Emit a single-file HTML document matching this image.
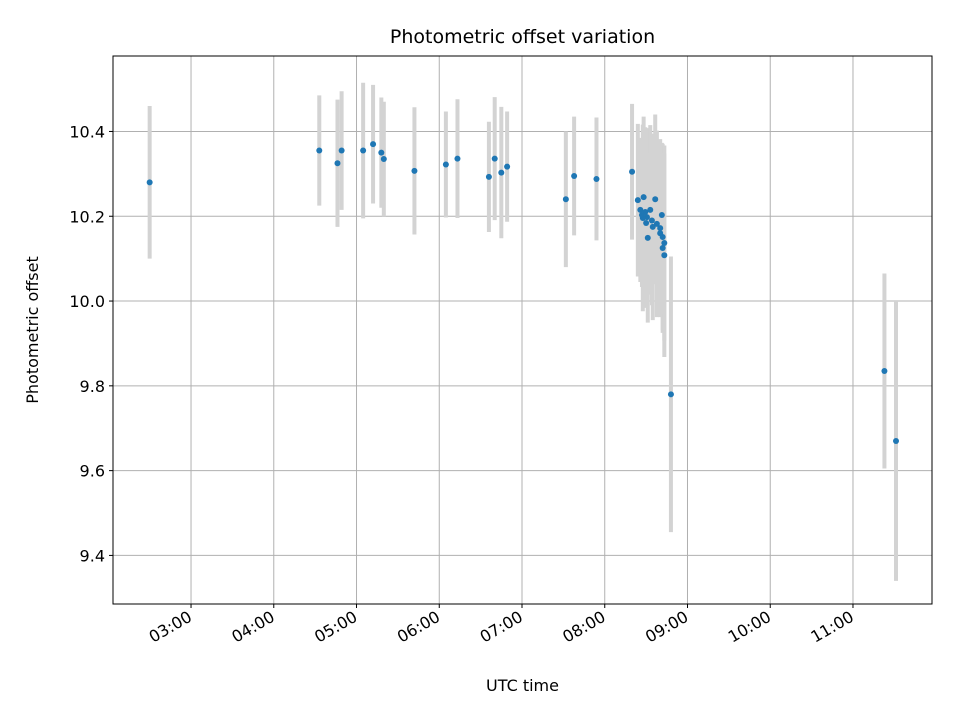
<!DOCTYPE html>
<html><head><meta charset="utf-8"><style>
body{margin:0;background:#fff;font-family:"DejaVu Sans","Liberation Sans",sans-serif}
svg text{font-family:"DejaVu Sans","Liberation Sans",sans-serif}
.t14{font-size:16px}
.t17{font-size:19px}
</style></head><body>
<svg id="c" width="960" height="720" xmlns="http://www.w3.org/2000/svg"></svg>
<script>
const times=[2.5,4.55,4.77,4.82,5.08,5.2,5.3,5.33,5.7,6.08,6.22,6.6,6.67,6.75,6.82,7.53,7.63,7.9,8.33,
8.40,8.47,8.61,8.43,8.49,8.55,8.51,8.46,8.57,8.69,8.58,8.52,8.67,8.70,8.72,8.70,8.72,8.50,8.63,8.45,8.67,
8.80,11.38,11.52];
const values=[10.28,10.355,10.325,10.355,10.355,10.37,10.35,10.335,10.307,10.322,10.336,10.293,10.336,10.303,10.317,10.24,10.295,10.288,10.305,
10.238,10.245,10.24,10.215,10.21,10.215,10.198,10.196,10.19,10.203,10.175,10.149,10.172,10.151,10.137,10.125,10.108,10.184,10.182,10.203,10.16,
9.78,9.835,9.67];
const errors=[0.18,0.13,0.15,0.14,0.16,0.14,0.13,0.135,0.15,0.125,0.14,0.13,0.145,0.155,0.13,0.16,0.14,0.145,0.16,
0.18,0.19,0.2,0.17,0.2,0.2,0.21,0.22,0.2,0.17,0.22,0.2,0.21,0.22,0.23,0.2,0.24,0.2,0.22,0.17,0.19,
0.325,0.23,0.33];
const yTicks=[9.4,9.6,9.8,10.0,10.2,10.4];
const xTicks=[3,4,5,6,7,8,9,10,11];
const xTickLabels=["03:00","04:00","05:00","06:00","07:00","08:00","09:00","10:00","11:00"];

const L=113,R=932,T=56,B=604;
const xmin=2.057,xmax=11.955,ymin=9.2854,ymax=10.578;
const X=t=>L+(t-xmin)/(xmax-xmin)*(R-L);
const Y=v=>B-(v-ymin)/(ymax-ymin)*(B-T);
const svg=document.getElementById('c');
const NS='http://www.w3.org/2000/svg';
function mk(tag,attrs,parent){const e=document.createElementNS(NS,tag);for(const k in attrs)e.setAttribute(k,attrs[k]);(parent||svg).appendChild(e);return e;}

yTicks.forEach(v=>{const l=mk('line',{x1:L,x2:R,y1:Y(v),y2:Y(v),stroke:'#b0b0b0','stroke-width':1});

});
xTicks.forEach(t=>{const l=mk('line',{x1:X(t),x2:X(t),y1:T,y2:B,stroke:'#b0b0b0','stroke-width':1});

});

times.forEach((t,i)=>{const l=mk('line',{x1:X(t),x2:X(t),y1:Y(values[i]+errors[i]),y2:Y(values[i]-errors[i]),stroke:'#d3d3d3','stroke-width':4});

});
times.forEach((t,i)=>{const c=mk('circle',{cx:X(t),cy:Y(values[i]),r:3,fill:'#1f77b4'});

});

const f=mk('rect',{x:L,y:T,width:R-L,height:B-T,fill:'none',stroke:'#000','stroke-width':1});



yTicks.forEach(v=>{mk('line',{x1:L-4,x2:L,y1:Y(v),y2:Y(v),stroke:'#000'});
const tx=mk('text',{x:L-8,y:Y(v)+6,'text-anchor':'end','class':'t14',fill:'#000'});
tx.textContent=v.toFixed(1);

});
xTicks.forEach((t,i)=>{mk('line',{x1:X(t),x2:X(t),y1:B,y2:B+4,stroke:'#000'});
const ax=X(t)+2, ay=B+16;
const tx=mk('text',{x:ax,y:ay,'text-anchor':'end','class':'t14',fill:'#000',transform:`rotate(-30 ${ax} ${ay})`});
tx.textContent=xTickLabels[i];

});

const ti=mk('text',{x:(L+R)/2,y:43,'text-anchor':'middle','class':'t17'});ti.textContent='Photometric offset variation';


const xl=mk('text',{x:(L+R)/2,y:691,'text-anchor':'middle','class':'t14'});xl.textContent='UTC time';


const yl=mk('text',{x:38,y:330,'text-anchor':'middle','class':'t14',transform:'rotate(-90 38 330)'});yl.textContent='Photometric offset';


</script>
</body></html>
